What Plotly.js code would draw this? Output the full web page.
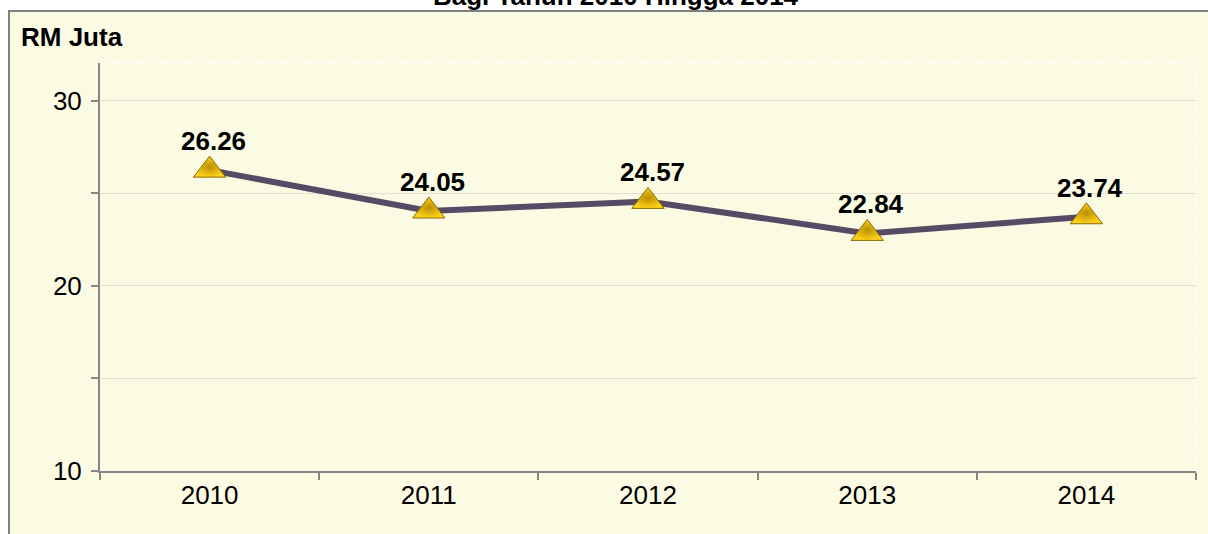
<!DOCTYPE html>
<html>
<head>
<meta charset="utf-8">
<script src="https://cdn.plot.ly/plotly-3.0.1.min.js"></script>
<style>
html,body{margin:0;padding:0;background:#fff;}
#chart{width:1208px;height:534px;}
</style>
</head>
<body>
<div id="chart"></div>
<script>
const years = ['2010', '2011', '2012', '2013', '2014'];
const values = [26.26, 24.05, 24.57, 22.84, 23.74];
const yTickVals = [10, 15, 20, 25, 30];
const yTickText = ['10', '', '20', '', '30'];
const chartTitle = 'Bagi Tahun 2010 Hingga 2014';
const yUnit = 'RM Juta';

const FONT = 'Liberation Sans, Arial, sans-serif';
const BG = '#FBFAE3';

const trace = {
  type: 'scatter',
  mode: 'lines+markers',
  x: years,
  y: values,
  line: {color: '#574A65', width: 6},
  marker: {
    symbol: 'triangle-up',
    size: 28,
    color: '#FFD21A',
    gradient: {type: 'radial', color: '#B98E00'},
    line: {color: '#8A6A00', width: 1}
  },
  cliponaxis: false,
  hoverinfo: 'skip'
};

const labelAnnotations = years.map((yr, i) => ({
  x: i, y: values[i], xref: 'x', yref: 'y',
  text: '<b>' + values[i].toFixed(2) + '</b>',
  showarrow: false, xanchor: 'center', yanchor: 'middle',
  xshift: 4, yshift: 29,
  font: {family: FONT, size: 26, color: '#000'}
}));

const layout = {
  width: 1208, height: 534,
  margin: {l: 100, r: 12, t: 63, b: 63},
  paper_bgcolor: '#ffffff',
  plot_bgcolor: 'rgba(0,0,0,0)',
  showlegend: false,
  font: {family: FONT, size: 26, color: '#000'},
  xaxis: {
    type: 'category',
    tickson: 'boundaries',
    ticks: 'outside', ticklen: 7, tickwidth: 2, tickcolor: '#868686',
    showline: true, linecolor: '#868686', linewidth: 2,
    showgrid: false, zeroline: false,
    tickfont: {family: FONT, size: 26, color: '#000'},
    range: [-0.5, 4.5]
  },
  yaxis: {
    range: [10, 32.05],
    tickvals: yTickVals, ticktext: yTickText,
    ticks: 'outside', ticklen: 7, tickwidth: 2, tickcolor: '#868686',
    showline: true, linecolor: '#868686', linewidth: 2,
    showgrid: true, gridcolor: '#E2E1D3', gridwidth: 1,
    zeroline: false,
    ticklabelstandoff: 4,
    tickfont: {family: FONT, size: 26, color: '#000'}
  },
  shapes: [
    {type: 'rect', xref: 'paper', yref: 'paper', layer: 'below',
     x0: (9 - 100) / 1096, x1: 1.2, y0: -0.3, y1: (471 - 11) / 408,
     fillcolor: BG, line: {color: '#808080', width: 2}},
    {type: 'line', xref: 'paper', yref: 'paper', layer: 'below',
     x0: 0, x1: 1, y0: 1, y1: 1,
     line: {color: '#ffffff', width: 1.5, dash: 'dot'}},
    {type: 'line', xref: 'paper', yref: 'paper', layer: 'below',
     x0: 1, x1: 1, y0: 0, y1: 1,
     line: {color: '#ffffff', width: 1.5, dash: 'dot'}}
  ],
  annotations: [
    {xref: 'paper', yref: 'paper', x: (616 - 100) / 1096, y: (471 + 4) / 408,
     text: '<b>' + chartTitle + '</b>', showarrow: false,
     xanchor: 'center', yanchor: 'middle',
     font: {family: FONT, size: 26, color: '#000'}},
    {xref: 'paper', yref: 'paper', x: (19 - 100) / 1096, y: (471 - 37) / 408,
     text: '<b>' + yUnit + '</b>', showarrow: false,
     xanchor: 'left', yanchor: 'middle',
     font: {family: FONT, size: 26, color: '#000'}}
  ].concat(labelAnnotations)
};

Plotly.newPlot('chart', [trace], layout, {displayModeBar: false, staticPlot: true});
</script>
</body>
</html>
